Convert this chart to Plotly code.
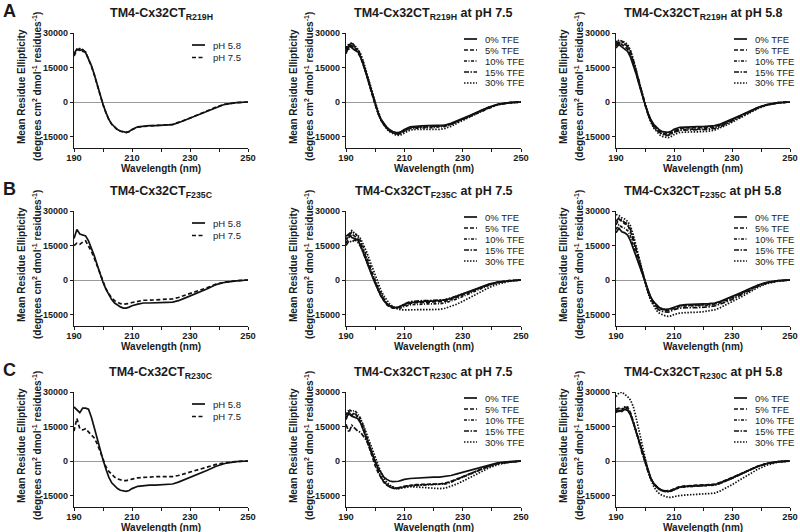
import plotly.graph_objects as go

# ---------------- data (mean residue ellipticity, in thousands) ----------------
wavelength = [190, 191, 192, 193, 194, 195, 196, 197, 198, 199, 200, 201, 202, 203, 204, 205, 206, 207, 208, 209, 210,
              212, 214, 216, 218, 220, 222, 224, 226, 228, 230, 233, 236, 239, 242, 246, 250]

# Row A: R219H, pH comparison
r219h_ph58 = [21.0, 23.0, 22.5, 22.8, 21.5, 19.0, 15.8, 12.0, 7.5, 3.0, -1.0, -4.5, -7.5, -9.6, -11.0, -12.0, -12.6, -13.0, -13.2, -12.8, -12.0,
              -10.8, -10.5, -10.3, -10.3, -10.2, -10.0, -9.8, -9.0, -8.0, -7.0, -5.5, -3.8, -2.2, -1.0, -0.3, 0.0]
r219h_ph75 = [20.0, 22.5, 23.2, 22.0, 21.8, 18.8, 15.5, 11.8, 7.3, 2.8, -1.2, -4.6, -7.6, -9.7, -11.1, -12.1, -12.7, -13.1, -13.3, -12.9, -12.1,
              -10.9, -10.5, -10.4, -10.2, -10.2, -10.0, -9.7, -9.0, -8.0, -7.0, -5.4, -3.7, -2.2, -1.0, -0.3, 0.0]
# Row B: F235C, pH comparison
f235c_ph58 = [18.0, 22.0, 20.0, 19.5, 19.2, 17.0, 14.0, 10.5, 6.5, 2.5, -1.0, -4.0, -6.5, -8.5, -10.0, -11.0, -11.7, -12.2, -12.2, -11.8, -11.2,
              -10.5, -10.0, -10.0, -9.8, -9.8, -9.7, -9.6, -9.0, -8.0, -7.0, -5.5, -3.8, -2.0, -1.0, -0.4, 0.0]
f235c_ph75 = [15.0, 16.0, 15.5, 16.5, 17.0, 15.0, 12.5, 9.5, 6.0, 2.5, -1.0, -3.8, -6.0, -7.8, -9.0, -9.8, -10.3, -10.5, -10.5, -10.2, -9.8,
              -9.3, -8.8, -8.8, -8.7, -8.6, -8.5, -8.2, -7.6, -6.8, -6.0, -4.8, -3.3, -1.8, -0.9, -0.3, 0.0]
# Row C: R230C, pH comparison
r230c_ph58 = [23.5, 22.0, 21.0, 23.0, 23.0, 22.5, 19.0, 14.5, 9.5, 4.5, 0.5, -3.5, -7.0, -9.5, -11.0, -12.0, -12.7, -13.0, -13.2, -12.8, -12.0,
              -11.0, -10.7, -10.5, -10.5, -10.4, -10.3, -10.0, -9.2, -8.2, -7.2, -5.8, -4.0, -2.3, -1.1, -0.3, 0.0]
r230c_ph75 = [13.0, 18.5, 14.0, 13.5, 14.0, 12.5, 11.5, 10.0, 7.5, 4.0, 0.5, -2.5, -4.5, -6.0, -7.0, -7.8, -8.2, -8.5, -8.5, -8.3, -7.9,
              -7.3, -7.0, -7.0, -6.8, -6.7, -6.8, -6.8, -6.3, -5.6, -4.8, -3.8, -2.7, -1.5, -0.8, -0.2, 0.0]

# R219H at pH 7.5, TFE series
r219h_75_tfe0 = [21.0, 24.5, 23.5, 22.5, 22.0, 19.5, 16.0, 12.0, 7.5, 3.0, -1.0, -4.5, -7.5, -9.5, -11.0, -12.0, -12.8, -13.2, -13.3, -12.8, -12.0,
                 -10.8, -10.5, -10.4, -10.3, -10.3, -10.2, -10.0, -9.3, -8.3, -7.2, -5.6, -3.8, -2.2, -1.0, -0.3, 0.0]
r219h_75_tfe5 = [22.5, 23.0, 24.5, 23.0, 21.5, 19.5, 16.0, 12.0, 7.4, 2.8, -1.2, -4.8, -7.8, -9.8, -11.3, -12.3, -13.0, -13.5, -13.6, -13.1, -12.3,
                 -11.0, -10.8, -10.7, -10.7, -10.6, -10.5, -10.2, -9.5, -8.5, -7.4, -5.8, -4.0, -2.3, -1.1, -0.3, 0.0]
r219h_75_tfe10 = [23.0, 25.5, 24.0, 23.5, 22.5, 20.0, 16.5, 12.3, 7.6, 2.9, -1.3, -5.0, -8.0, -10.0, -11.5, -12.5, -13.2, -13.7, -13.8, -13.4, -12.7,
                  -11.5, -11.3, -11.2, -11.2, -11.1, -11.0, -10.6, -9.8, -8.7, -7.6, -5.9, -4.1, -2.4, -1.1, -0.3, 0.0]
r219h_75_tfe15 = [24.0, 24.0, 26.0, 24.0, 23.0, 20.5, 16.8, 12.5, 7.8, 3.0, -1.2, -5.0, -8.0, -10.1, -11.6, -12.6, -13.4, -13.9, -14.0, -13.5, -12.6,
                  -11.2, -11.0, -10.9, -10.9, -10.8, -10.7, -10.4, -9.7, -8.6, -7.5, -5.8, -4.0, -2.3, -1.1, -0.3, 0.0]
r219h_75_tfe30 = [22.0, 25.0, 25.5, 24.5, 23.0, 21.0, 17.5, 13.5, 9.0, 4.5, 0.0, -4.0, -7.5, -10.0, -11.8, -13.0, -13.8, -14.3, -14.5, -14.2, -13.5,
                  -12.2, -11.9, -11.9, -12.0, -12.0, -11.9, -11.5, -10.6, -9.3, -8.0, -6.2, -4.3, -2.6, -1.3, -0.4, 0.0]

# R219H at pH 5.8, TFE series
r219h_58_tfe0 = [23.5, 25.0, 24.0, 23.0, 22.0, 19.5, 16.0, 12.0, 7.5, 3.0, -1.0, -4.6, -7.6, -9.7, -11.2, -12.2, -12.9, -13.2, -13.2, -12.7, -11.9,
                 -11.0, -10.8, -10.8, -10.7, -10.7, -10.6, -10.3, -9.6, -8.6, -7.5, -5.8, -4.0, -2.3, -1.1, -0.3, 0.0]
r219h_58_tfe5 = [25.0, 26.0, 25.0, 24.0, 23.0, 20.5, 16.8, 12.5, 7.8, 3.0, -1.2, -5.0, -8.0, -10.1, -11.6, -12.7, -13.4, -13.8, -13.8, -13.3, -12.5,
                 -11.5, -11.3, -11.3, -11.2, -11.2, -11.0, -10.7, -10.0, -8.9, -7.8, -6.0, -4.2, -2.4, -1.2, -0.3, 0.0]
r219h_58_tfe10 = [26.5, 25.5, 26.5, 25.0, 24.0, 21.5, 17.5, 13.0, 8.0, 3.2, -1.2, -5.2, -8.3, -10.5, -12.0, -13.1, -13.8, -14.2, -14.2, -13.8, -13.0,
                  -12.0, -11.8, -11.8, -11.8, -11.7, -11.5, -11.1, -10.3, -9.2, -8.0, -6.2, -4.3, -2.5, -1.2, -0.3, 0.0]
r219h_58_tfe15 = [24.5, 25.5, 26.0, 25.0, 24.5, 22.0, 18.0, 13.5, 8.5, 3.5, -1.0, -5.2, -8.5, -10.8, -12.3, -13.4, -14.1, -14.5, -14.5, -14.0, -13.2,
                  -12.3, -12.2, -12.2, -12.2, -12.1, -11.9, -11.5, -10.7, -9.5, -8.3, -6.4, -4.4, -2.6, -1.3, -0.4, 0.0]
r219h_58_tfe30 = [25.5, 27.0, 26.5, 26.0, 25.0, 22.5, 18.5, 14.0, 9.0, 4.0, -0.8, -5.2, -8.8, -11.3, -13.0, -14.2, -15.0, -15.4, -15.5, -15.0, -14.2,
                  -13.2, -13.0, -13.0, -13.0, -12.9, -12.7, -12.2, -11.3, -10.1, -8.8, -6.8, -4.7, -2.8, -1.4, -0.4, 0.0]

# F235C at pH 7.5, TFE series
f235c_75_tfe0 = [19.0, 20.0, 18.5, 18.0, 17.5, 15.0, 11.5, 8.0, 4.5, 1.5, -1.5, -4.5, -7.0, -9.0, -10.5, -11.3, -11.8, -12.0, -11.8, -11.2, -10.6,
                 -9.8, -9.5, -9.4, -9.2, -9.2, -9.0, -8.7, -8.0, -7.0, -6.0, -4.6, -3.2, -1.8, -0.9, -0.3, 0.0]
f235c_75_tfe5 = [16.0, 18.5, 20.0, 19.0, 18.0, 16.0, 12.5, 9.0, 5.3, 2.0, -1.2, -4.3, -7.0, -9.2, -10.8, -11.7, -12.2, -12.3, -12.1, -11.6, -11.0,
                 -10.2, -9.9, -9.8, -9.8, -9.7, -9.6, -9.3, -8.5, -7.5, -6.5, -5.0, -3.5, -2.0, -1.0, -0.3, 0.0]
f235c_75_tfe10 = [17.5, 19.0, 21.0, 20.5, 19.0, 17.0, 14.0, 10.5, 6.5, 3.0, 0.0, -3.0, -5.8, -8.3, -10.2, -11.4, -12.1, -12.4, -12.5, -12.1, -11.5,
                  -10.8, -10.5, -10.5, -10.4, -10.4, -10.3, -10.0, -9.2, -8.2, -7.2, -5.6, -3.9, -2.3, -1.1, -0.3, 0.0]
f235c_75_tfe15 = [15.0, 17.0, 16.5, 17.5, 16.5, 14.5, 11.5, 8.3, 5.0, 1.8, -1.3, -4.2, -6.8, -8.8, -10.3, -11.2, -11.8, -12.0, -11.8, -11.2, -10.4,
                  -9.4, -9.1, -9.0, -9.0, -8.9, -8.8, -8.5, -7.8, -7.0, -6.2, -4.8, -3.4, -2.0, -1.0, -0.3, 0.0]
f235c_75_tfe30 = [18.0, 20.0, 21.5, 20.0, 19.5, 18.0, 15.5, 12.5, 9.0, 5.5, 2.0, -1.5, -4.5, -7.0, -9.0, -10.5, -11.5, -12.2, -12.8, -13.0, -13.0,
                  -12.8, -12.8, -13.0, -13.0, -13.0, -12.8, -12.3, -11.5, -10.5, -9.3, -7.3, -5.3, -3.3, -1.8, -0.6, 0.0]

# F235C at pH 5.8, TFE series
f235c_58_tfe0 = [20.5, 22.5, 21.0, 20.5, 19.5, 17.0, 13.5, 10.0, 6.0, 2.5, -1.0, -4.5, -7.5, -9.5, -11.0, -12.0, -12.5, -12.8, -12.7, -12.2, -11.7,
                 -11.0, -10.7, -10.5, -10.5, -10.4, -10.3, -10.0, -9.3, -8.3, -7.2, -5.6, -3.8, -2.2, -1.0, -0.3, 0.0]
f235c_58_tfe5 = [24.0, 26.5, 25.5, 24.5, 24.0, 21.0, 17.0, 12.5, 7.5, 3.0, -1.0, -4.8, -7.9, -10.0, -11.6, -12.5, -13.0, -13.3, -13.2, -12.7, -12.1,
                 -11.3, -11.0, -11.0, -10.9, -10.9, -10.7, -10.4, -9.6, -8.6, -7.5, -5.8, -4.0, -2.3, -1.1, -0.3, 0.0]
f235c_58_tfe10 = [22.0, 24.0, 23.0, 22.5, 21.5, 19.0, 15.0, 11.0, 6.8, 2.7, -1.0, -4.7, -7.8, -9.9, -11.4, -12.3, -12.8, -13.0, -13.0, -12.6, -12.1,
                  -11.5, -11.3, -11.3, -11.2, -11.2, -11.0, -10.7, -9.9, -8.9, -7.8, -6.0, -4.2, -2.4, -1.2, -0.3, 0.0]
f235c_58_tfe15 = [25.5, 27.0, 26.0, 25.0, 24.5, 22.0, 18.0, 13.3, 8.0, 3.2, -1.0, -5.0, -8.3, -10.6, -12.2, -13.2, -13.7, -14.0, -14.0, -13.5, -12.9,
                  -12.2, -12.0, -12.0, -12.0, -11.9, -11.7, -11.3, -10.5, -9.5, -8.5, -6.6, -4.6, -2.7, -1.3, -0.4, 0.0]
f235c_58_tfe30 = [28.5, 28.0, 27.0, 26.5, 25.5, 23.5, 19.5, 14.5, 9.0, 3.5, -1.0, -5.5, -9.0, -11.5, -13.3, -14.5, -15.2, -15.6, -15.8, -15.6, -15.0,
                  -14.4, -14.2, -14.2, -14.0, -13.8, -13.5, -13.0, -12.0, -10.8, -9.6, -7.5, -5.3, -3.2, -1.6, -0.5, 0.0]

# R230C at pH 7.5, TFE series
r230c_75_tfe0 = [19.0, 20.5, 19.5, 19.0, 18.5, 16.5, 13.5, 10.0, 6.5, 3.0, 0.0, -3.0, -5.3, -7.0, -8.0, -8.7, -9.0, -9.0, -8.8, -8.4, -8.0,
                 -7.6, -7.4, -7.3, -7.2, -7.0, -7.0, -6.8, -6.3, -5.6, -4.9, -3.8, -2.7, -1.6, -0.8, -0.3, 0.0]
r230c_75_tfe5 = [18.0, 21.5, 20.0, 21.0, 19.0, 17.0, 13.5, 9.5, 5.5, 1.5, -2.0, -5.0, -7.5, -9.3, -10.5, -11.3, -11.8, -12.0, -11.8, -11.3, -11.0,
                 -10.5, -10.3, -10.2, -10.0, -10.0, -10.0, -9.6, -8.8, -7.8, -6.8, -5.3, -3.7, -2.2, -1.1, -0.4, 0.0]
r230c_75_tfe10 = [20.0, 22.5, 21.5, 22.0, 20.5, 18.5, 15.0, 11.0, 7.0, 3.0, -0.5, -4.0, -7.0, -9.0, -10.5, -11.3, -11.8, -12.0, -11.9, -11.5, -11.2,
                  -10.8, -10.7, -10.6, -10.5, -10.5, -10.3, -10.0, -9.2, -8.2, -7.2, -5.6, -3.9, -2.3, -1.1, -0.4, 0.0]
r230c_75_tfe15 = [16.0, 12.5, 15.5, 14.0, 13.0, 12.5, 11.0, 9.0, 6.0, 2.5, -1.0, -4.5, -7.2, -9.0, -10.3, -11.0, -11.5, -11.8, -11.7, -11.4, -11.0,
                  -10.7, -10.5, -10.4, -10.3, -10.2, -10.1, -9.8, -9.0, -8.0, -7.0, -5.4, -3.7, -2.2, -1.1, -0.4, 0.0]
r230c_75_tfe30 = [19.0, 21.0, 20.0, 20.5, 19.5, 18.0, 15.5, 12.0, 8.5, 5.0, 1.5, -2.0, -5.0, -7.5, -9.3, -10.5, -11.3, -11.8, -12.0, -11.8, -11.5,
                  -11.2, -11.3, -11.5, -11.8, -12.0, -12.0, -11.8, -11.0, -10.0, -8.8, -6.8, -4.8, -3.0, -1.6, -0.5, 0.0]

# R230C at pH 5.8, TFE series
r230c_58_tfe0 = [21.0, 22.0, 21.5, 22.5, 22.0, 20.0, 16.5, 12.5, 8.0, 3.5, -0.5, -4.5, -7.5, -9.7, -11.2, -12.2, -12.8, -13.1, -13.2, -12.9, -12.3,
                 -11.3, -11.0, -10.9, -10.8, -10.7, -10.6, -10.3, -9.5, -8.5, -7.4, -5.7, -3.9, -2.3, -1.1, -0.3, 0.0]
r230c_58_tfe5 = [22.5, 23.0, 22.0, 23.0, 23.5, 21.0, 17.0, 12.8, 8.2, 3.6, -0.6, -4.6, -7.6, -9.8, -11.3, -12.2, -12.8, -13.0, -13.0, -12.7, -12.1,
                 -11.1, -10.8, -10.7, -10.6, -10.5, -10.4, -10.1, -9.3, -8.3, -7.3, -5.6, -3.9, -2.2, -1.1, -0.3, 0.0]
r230c_58_tfe10 = [21.5, 22.5, 23.0, 22.0, 22.5, 20.5, 16.8, 12.7, 8.1, 3.5, -0.7, -4.8, -7.8, -10.0, -11.5, -12.5, -13.1, -13.4, -13.4, -13.1, -12.5,
                  -11.5, -11.2, -11.1, -11.0, -10.9, -10.8, -10.5, -9.7, -8.7, -7.6, -5.8, -4.0, -2.3, -1.1, -0.3, 0.0]
r230c_58_tfe15 = [22.0, 21.5, 22.5, 23.5, 22.5, 20.5, 16.6, 12.6, 8.0, 3.4, -0.6, -4.7, -7.7, -9.9, -11.4, -12.4, -13.0, -13.3, -13.3, -13.0, -12.4,
                  -11.4, -11.1, -11.0, -10.9, -10.8, -10.7, -10.4, -9.6, -8.6, -7.5, -5.7, -3.9, -2.3, -1.1, -0.3, 0.0]
r230c_58_tfe30 = [28.0, 29.5, 30.0, 29.0, 28.0, 26.5, 23.5, 18.5, 12.5, 6.5, 1.0, -4.0, -8.0, -11.0, -13.0, -14.3, -15.0, -15.5, -15.8, -15.8, -15.5,
                  -15.0, -14.8, -14.7, -14.6, -14.5, -14.3, -14.0, -13.0, -11.7, -10.3, -8.0, -5.7, -3.5, -1.8, -0.5, 0.0]

ph_labels = ["pH 5.8", "pH 7.5"]
tfe_labels = ["0% TFE", "5% TFE", "10% TFE", "15% TFE", "30% TFE"]
mutants = ["R219H", "F235C", "R230C"]
panel_letters = ["A", "B", "C"]
x_tickvals = [190, 210, 230, 250]
x_minor_tickvals = [200, 220, 240]
y_tickvals = [-15, 0, 15, 30]          # thousands
y_ticktext = ["-15000", "0", "15000", "30000"]
y_title_lines = ["Mean Residue Ellipticity",
                 "(degrees cm<sup>2</sup> dmol<sup>-1</sup> residues<sup>-1</sup>)"]

# ---------------- styling / layout ----------------
W, H = 800, 532
col_left = [74, 346, 616]
col_w = [174, 175, 174]
row_top = [33, 211, 392]
plot_h = 115
FONT = "Arial, Liberation Sans, Helvetica, sans-serif"
INK = "#1a1a1a"
LW = 1.7

ph_dash = ["solid", "4px,2.5px"]
tfe_dash = ["solid", "4px,2px", "3px,1.5px,1px,1.5px", "5px,1.5px,1.5px,1.5px", "1.5px,1.5px"]

panels = [
    [(ph_labels, [r219h_ph58, r219h_ph75], ph_dash, ""),
     (tfe_labels, [r219h_75_tfe0, r219h_75_tfe5, r219h_75_tfe10, r219h_75_tfe15, r219h_75_tfe30], tfe_dash, " at pH 7.5"),
     (tfe_labels, [r219h_58_tfe0, r219h_58_tfe5, r219h_58_tfe10, r219h_58_tfe15, r219h_58_tfe30], tfe_dash, " at pH 5.8")],
    [(ph_labels, [f235c_ph58, f235c_ph75], ph_dash, ""),
     (tfe_labels, [f235c_75_tfe0, f235c_75_tfe5, f235c_75_tfe10, f235c_75_tfe15, f235c_75_tfe30], tfe_dash, " at pH 7.5"),
     (tfe_labels, [f235c_58_tfe0, f235c_58_tfe5, f235c_58_tfe10, f235c_58_tfe15, f235c_58_tfe30], tfe_dash, " at pH 5.8")],
    [(ph_labels, [r230c_ph58, r230c_ph75], ph_dash, ""),
     (tfe_labels, [r230c_75_tfe0, r230c_75_tfe5, r230c_75_tfe10, r230c_75_tfe15, r230c_75_tfe30], tfe_dash, " at pH 7.5"),
     (tfe_labels, [r230c_58_tfe0, r230c_58_tfe5, r230c_58_tfe10, r230c_58_tfe15, r230c_58_tfe30], tfe_dash, " at pH 5.8")],
]


def px(xp):
    return xp / W


def py(yp):
    return 1 - yp / H


fig = go.Figure()
annotations = []
shapes = []
layout_axes = {}

for r in range(3):
    T = row_top[r]
    annotations.append(dict(x=px(1), y=py(T - 22), xref="paper", yref="paper", xanchor="left", yanchor="middle",
                            text="<b>%s</b>" % panel_letters[r], showarrow=False,
                            font=dict(family=FONT, size=18, color=INK)))
    for c in range(3):
        L = col_left[c]
        pw = col_w[c]
        k = r * 3 + c + 1
        sfx = "" if k == 1 else str(k)
        labels, series, dashes, suffix = panels[r][c]
        for name, vals, dash in zip(labels, series, dashes):
            fig.add_trace(go.Scatter(x=wavelength, y=vals, mode="lines", name=name, showlegend=False,
                                     line=dict(color="#111111", width=LW, dash=dash),
                                     xaxis="x" + sfx, yaxis="y" + sfx))
        layout_axes["xaxis" + sfx] = dict(
            domain=[px(L), px(L + pw)], anchor="y" + sfx, range=[190, 250], automargin=False,
            tickmode="array", tickvals=x_tickvals, ticklabeloverflow="allow",
            ticks="outside", ticklen=3, tickwidth=1, tickcolor=INK, ticklabelstandoff=-2,
            minor=dict(tickmode="array", tickvals=x_minor_tickvals, ticks="outside", ticklen=3,
                       tickwidth=1, tickcolor=INK, showgrid=False),
            showline=True, linecolor=INK, linewidth=1.2, showgrid=False, zeroline=False,
            tickfont=dict(family=FONT, size=9.3, color=INK, weight="bold"))
        layout_axes["yaxis" + sfx] = dict(
            domain=[py(T + plot_h), py(T)], anchor="x" + sfx, range=[-20, 30], automargin=False,
            tickmode="array", tickvals=y_tickvals, ticktext=y_ticktext, ticklabeloverflow="allow",
            ticks="outside", ticklen=3, tickwidth=1, tickcolor=INK,
            showline=True, linecolor=INK, linewidth=1.2, showgrid=False,
            zeroline=True, zerolinecolor="#9a9a9a", zerolinewidth=1,
            tickfont=dict(family=FONT, size=9, color=INK, weight="bold"))
        # panel title
        annotations.append(dict(x=px(L + pw / 2), y=py(T - 19), xref="paper", yref="paper",
                                xanchor="center", yanchor="middle", showarrow=False,
                                text="<b>TM4-Cx32CT<sub>%s</sub>%s</b>" % (mutants[r], suffix),
                                font=dict(family=FONT, size=12.5, color=INK)))
        # y-axis title, two rotated lines
        for line_txt, dx in zip(y_title_lines, [-53, -37]):
            annotations.append(dict(x=px(L + dx), y=py(T + 54), xref="paper", yref="paper",
                                    xanchor="center", yanchor="middle", showarrow=False, textangle=-90,
                                    text="<b>%s</b>" % line_txt,
                                    font=dict(family=FONT, size=10, color=INK)))
        # x-axis title
        annotations.append(dict(x=px(L + pw / 2), y=py(T + plot_h + 20), xref="paper", yref="paper",
                                xanchor="center", yanchor="middle", showarrow=False,
                                text="<b>Wavelength (nm)</b>",
                                font=dict(family=FONT, size=10, color=INK)))
        # legend (drawn manually to match the compact spacing)
        if len(labels) == 2:
            offs = [T + 12, T + 24.5]
        else:
            offs = [T + 6 + 11 * i for i in range(len(labels))]
        for name, dash, yy in zip(labels, dashes, offs):
            shapes.append(dict(type="line", xref="paper", yref="paper",
                               x0=px(L + 118), x1=px(L + 131), y0=py(yy), y1=py(yy),
                               line=dict(color="#111111", width=LW, dash=dash)))
            annotations.append(dict(x=px(L + 137), y=py(yy), xref="paper", yref="paper",
                                    xanchor="left", yanchor="middle", showarrow=False, text=name,
                                    font=dict(family=FONT, size=9.5, color="#222222")))

fig.update_layout(
    width=W, height=H, margin=dict(l=0, r=0, t=0, b=0, autoexpand=False),
    paper_bgcolor="white", plot_bgcolor="white", font=dict(family=FONT, color=INK),
    showlegend=False, annotations=annotations, shapes=shapes,
    **layout_axes)

fig.write_html("out.html", config={"displayModeBar": False},
               post_script="document.body.style.margin='0';document.body.style.padding='0';"
                           "document.body.style.overflow='hidden';")
